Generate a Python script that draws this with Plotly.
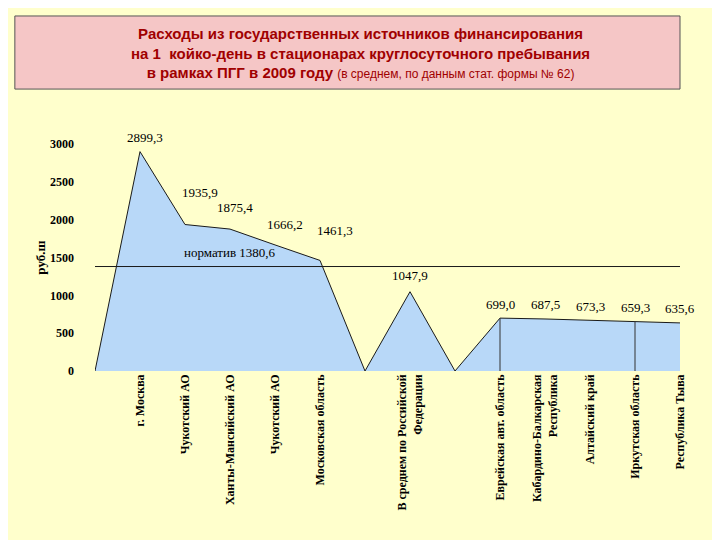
import plotly.graph_objects as go

categories = ["", "г. Москва", "Чукотский АО", "Ханты-Мансийский АО", "Чукотский АО",
              "Московская область", "", "В среднем по Российской<br>Федерации", "",
              "Еврейская авт. область", "Кабардино-Балкарская<br>Республика",
              "Алтайский край", "Иркутская область", "Республика Тыва"]
values = [0, 2899.3, 1935.9, 1875.4, 1666.2, 1461.3, 0, 1047.9, 0,
          699.0, 687.5, 673.3, 659.3, 635.6]
labels = ["", "2899,3", "1935,9", "1875,4", "1666,2", "1461,3", "", "1047,9", "",
          "699,0", "687,5", "673,3", "659,3", "635,6"]
norm = 1380.6
x = list(range(len(categories)))

fig = go.Figure()
fig.add_trace(go.Scatter(x=x, y=values, mode="lines", fill="tozeroy",
                         fillcolor="#B8D8F8", line=dict(color="#1a1a1a", width=1)))
fig.add_trace(go.Scatter(x=[x[0], x[-1]], y=[norm, norm], mode="lines",
                         line=dict(color="#1a1a1a", width=1)))
for i in (9, 12):
    fig.add_trace(go.Scatter(x=[i, i], y=[0, values[i]], mode="lines",
                             line=dict(color="#333", width=1)))

shifts = {1: (5, 14), 2: (15, 32), 3: (5, 22), 4: (10, 20), 5: (15, 30), 7: (0, 16)}
for i, (v, t) in enumerate(zip(values, labels)):
    if t:
        dx, dy = shifts.get(i, (0, 14))
        fig.add_annotation(x=i, y=v, text=t, showarrow=False, xshift=dx, yshift=dy,
                           font=dict(family="Liberation Serif", size=13, color="black"))
fig.add_annotation(x=3.0, y=norm, text="норматив 1380,6", showarrow=False, yshift=14,
                   font=dict(family="Liberation Serif", size=13, color="black"))

fig.add_shape(type="rect", xref="paper", yref="paper", x0=-0.137, x1=1.0,
              y0=1.242, y1=1.564, fillcolor="#F5C6C6", line=dict(color="#555", width=1),
              layer="below")
fig.add_annotation(xref="paper", yref="paper", x=0.453, y=1.27, yanchor="bottom",
                   text="Расходы из государственных источников финансирования<br>"
                        "на 1  койко-день в стационарах круглосуточного пребывания<br>"
                        "в рамках ПГГ в 2009 году <span style='font-size:12px;font-weight:normal'>"
                        "(в среднем, по данным стат. формы № 62)</span>",
                   showarrow=False,
                   font=dict(family="Liberation Sans", size=15, color="#A00000", weight="bold"))
fig.add_annotation(xref="paper", yref="paper", x=-0.11, y=0.5, text="руб.ш",
                   textangle=-90, showarrow=False,
                   font=dict(family="Liberation Serif", size=13, color="black", weight="bold"))

fig.update_layout(
    width=720, height=540, showlegend=False,
    paper_bgcolor="#FFFFCC", plot_bgcolor="#FFFFCC",
    margin=dict(l=87, r=48, t=136, b=177),
    xaxis=dict(range=[0, 13], tickvals=x, ticktext=categories, tickangle=-90,
               showgrid=False, zeroline=False, showline=False,
               tickfont=dict(family="Liberation Serif", size=12, color="black", weight="bold")),
    yaxis=dict(range=[0, 3000], dtick=500, showgrid=False, zeroline=False,
               showline=False, ticklabelstandoff=20,
               tickfont=dict(family="Liberation Serif", size=12, color="black", weight="bold")),
)
fig.write_html("out.html")
